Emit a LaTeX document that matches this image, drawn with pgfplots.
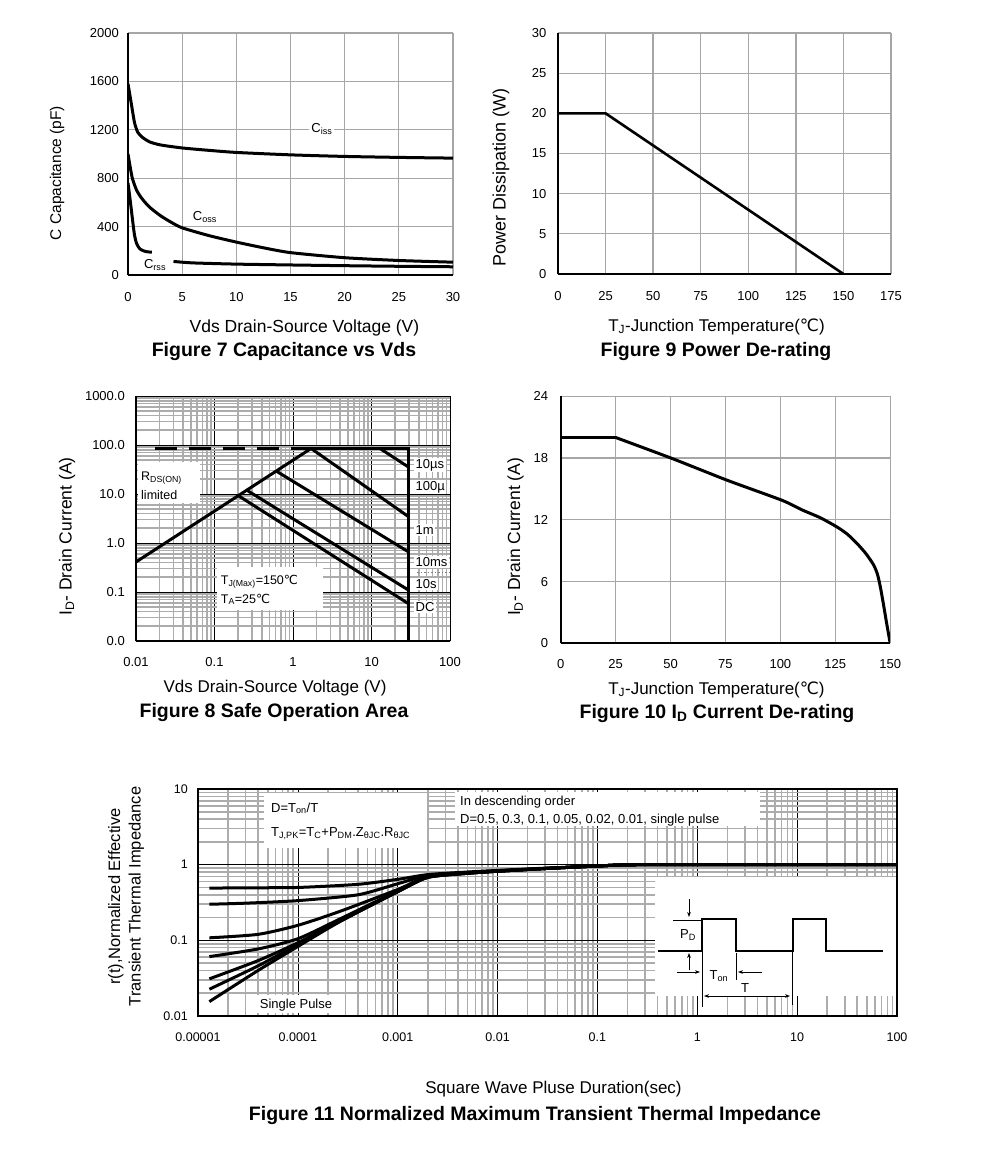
\documentclass[border=0pt]{standalone}
\usepackage{fontspec}
\setmainfont{Liberation Sans}
\newfontfamily\dejavu{DejaVu Sans}
\usepackage{pgfplots}
\pgfplotsset{compat=1.18}
\usetikzlibrary{arrows.meta}

\newcommand{\degC}{{\dejavu ℃}}
\newcommand{\tickfont}{\fontsize{13}{16}\selectfont}
\newcommand{\xlabfont}{\fontsize{17}{20}\selectfont}
\newcommand{\ylabfont}{\fontsize{17.5}{21}\selectfont}
\newcommand{\titfont}{\fontsize{19.5}{23}\selectfont\bfseries}
\newcommand{\annfont}{\fontsize{13}{15.5}\selectfont}

\pgfplotsset{
  ds/.style={
    scale only axis, anchor=south west,
    major tick length=0pt, minor tick length=0pt,
    tick style={draw=none},
    tick label style={font=\tickfont, inner sep=0pt},
    /pgf/number format/assume math mode=true,
    /pgf/number format/1000 sep={},
    scaled ticks=false,
    grid=major,
    major grid style={draw=gray!70, line width=1.3pt},
    axis line style={black, line width=2pt, -},
  },
  lin/.style={ds, axis x line*=bottom, axis y line*=left},
  curve/.style={black, line width=3pt, no markers},
}

\begin{document}
\begin{tikzpicture}[x=1pt,y=1pt]
\useasboundingbox (0,0) rectangle (991,-1171);

% ---------------- Figure 7
\begin{axis}[lin, at={(128pt,-275pt)}, width=325pt, height=242pt,
  xmin=0, xmax=30, ymin=0, ymax=2000,
  xtick={0,5,...,30}, ytick={0,400,...,2000},
  xticklabel style={anchor=base, yshift=-26pt},
  yticklabel style={anchor=east, xshift=-9pt},
  xlabel={Vds Drain-Source Voltage (V)},
  ylabel={C Capacitance (pF)},
  xlabel style={at={(axis description cs:0.5,0)}, anchor=base, yshift=-57pt, xshift=14pt, font=\fontsize{17.5}{20}\selectfont},
  ylabel style={at={([xshift=-71pt,yshift=-19pt]axis description cs:0,0.5)}, anchor=center, font=\fontsize{15.5}{18}\selectfont},
]
\addplot[curve, smooth, tension=0.4] coordinates {
  (0,1580) (0.3,1420) (0.6,1260) (0.9,1180) (1.3,1140) (2,1100) (3,1075)
  (5,1050) (7.5,1030) (10,1013) (15,993) (20,980) (25,972) (30,966)};
\addplot[curve, smooth, tension=0.4] coordinates {
  (0,1000) (0.15,920) (0.4,800) (0.8,700) (1.3,630) (2,560) (3,490) (4,435)
  (5,390) (7.5,325) (10,272) (12.5,225) (15,185) (20,143) (25,120) (30,106)};
\addplot[curve, smooth, tension=0.4] coordinates {
  (0,760) (0.2,620) (0.4,470) (0.6,330) (0.8,260) (1.1,215) (1.6,195) (2.2,188)};
\addplot[curve, smooth, tension=0.4] coordinates {
  (4.2,112) (6,100) (10,90) (15,83) (20,77) (25,72) (30,68)};
\node[fill=white, inner sep=2pt, font=\annfont] at (axis cs:17.9,1206) {C\textsubscript{iss}};
\node[inner sep=1pt, font=\annfont] at (axis cs:7.1,479) {C\textsubscript{oss}};
\node[inner sep=1pt, font=\annfont] at (axis cs:2.5,83) {C\textsubscript{rss}};
\end{axis}

% ---------------- Figure 9
\begin{axis}[lin, at={(558pt,-274pt)}, width=333pt, height=241pt,
  xmin=0, xmax=175, ymin=0, ymax=30,
  xtick={0,25,...,175}, ytick={0,5,...,30},
  xticklabel style={anchor=base, yshift=-26pt},
  yticklabel style={anchor=east, xshift=-11.5pt},
  xlabel={T\textsubscript{J}-Junction Temperature(\degC)},
  ylabel={Power Dissipation (W)},
  xlabel style={at={(axis description cs:0.5,0)}, anchor=base, yshift=-57pt, xshift=-8pt, font=\xlabfont},
  ylabel style={at={([xshift=-57pt,yshift=-24pt]axis description cs:0,0.5)}, anchor=center, font=\fontsize{18}{21}\selectfont},
]
\addplot[curve, line width=2.6pt] coordinates {(0,20) (25,20) (150,0)};
\end{axis}

% ---------------- Figure 8
\begin{axis}[ds, axis x line*=bottom, axis y line*=left,
  xmode=log, ymode=log, at={(136pt,-641pt)}, width=314pt, height=245pt,
  xmin=0.01, xmax=100, ymin=0.01, ymax=1000,
  xtick={0.01,0.1,1,10,100}, xticklabels={0.01,0.1,1,10,100},
  ytick={0.01,0.1,1,10,100,1000}, yticklabels={0.0,0.1,1.0,10.0,100.0,1000.0},
  minor xtick={0.02,0.03,0.04,0.05,0.06,0.07,0.08,0.09,0.2,0.3,0.4,0.5,0.6,0.7,0.8,0.9,
    2,3,4,5,6,7,8,9,20,30,40,50,60,70,80,90},
  minor ytick={0.02,0.03,0.04,0.05,0.06,0.07,0.08,0.09,0.2,0.3,0.4,0.5,0.6,0.7,0.8,0.9,
    2,3,4,5,6,7,8,9,20,30,40,50,60,70,80,90,200,300,400,500,600,700,800,900},
  grid=both,
  major grid style={draw=black, line width=0.6pt},
  minor grid style={draw=gray!65, line width=1.6pt},
  axis line style={line width=2.5pt},
  xticklabel style={anchor=base, yshift=-25pt},
  yticklabel style={anchor=east, xshift=-11pt},
  xlabel={Vds Drain-Source Voltage (V)},
  ylabel={I\textsubscript{D}- Drain Current (A)},
  xlabel style={at={(axis description cs:0.5,0)}, anchor=base, yshift=-51pt, xshift=-18pt, font=\xlabfont},
  ylabel style={at={([xshift=-69pt,yshift=-18pt]axis description cs:0,0.5)}, anchor=center, font=\ylabfont},
]
\addplot[curve, dash pattern=on 22pt off 12pt] coordinates {(0.0175,85) (1.7,85)};
\addplot[curve] coordinates {(1.7,85) (30,85) (30,0.01)};
\addplot[curve] coordinates {(0.01,0.41) (1.7,85)};
\addplot[curve] coordinates {(12.8,85) (30,35)};
\addplot[curve] coordinates {(1.7,85) (30,3.4)};
\addplot[curve] coordinates {(0.62,29) (30,0.65)};
\addplot[curve] coordinates {(0.257,12) (30,0.108)};
\addplot[curve] coordinates {(0.2,9.3) (30,0.057)};
\end{axis}

% ---------------- Figure 10
\begin{axis}[lin, at={(560.7pt,-643.3pt)}, width=329.5pt, height=247pt,
  xmin=0, xmax=150, ymin=0, ymax=24,
  xtick={0,25,...,150}, ytick={0,6,...,24},
  xticklabel style={anchor=base, yshift=-25pt},
  yticklabel style={anchor=east, xshift=-12.5pt},
  xlabel={T\textsubscript{J}-Junction Temperature(\degC)},
  ylabel={I\textsubscript{D}- Drain Current (A)},
  xlabel style={at={(axis description cs:0.5,0)}, anchor=base, yshift=-51pt, xshift=-9pt, font=\xlabfont},
  ylabel style={at={([xshift=-45pt,yshift=-17pt]axis description cs:0,0.5)}, anchor=center, font=\ylabfont},
]
\addplot[curve] coordinates {(0,20) (25,20)};
\addplot[curve, smooth, tension=0.4] coordinates {
  (25,20) (50.7,17.96) (75.7,15.85) (100.7,13.9) (110,12.95) (118.2,12.2)
  (125.8,11.3) (130.5,10.6) (134.9,9.7) (139,8.7) (142.5,7.6) (144.2,6.7)
  (145.5,5.5) (147,3.7) (148.5,1.8) (150,0)};
\end{axis}

% ---------------- Figure 11
\begin{axis}[ds, axis lines=box,
  xmode=log, ymode=log, at={(198pt,-1016pt)}, width=699pt, height=227pt,
  xmin=1e-5, xmax=100, ymin=0.01, ymax=10,
  xtick={1e-5,1e-4,1e-3,0.01,0.1,1,10,100},
  xticklabels={0.00001,0.0001,0.001,0.01,0.1,1,10,100},
  ytick={0.01,0.1,1,10}, yticklabels={0.01,0.1,1,10},
  minor xtick={2e-5,3e-5,4e-5,5e-5,6e-5,7e-5,8e-5,9e-5,
    2e-4,3e-4,4e-4,5e-4,6e-4,7e-4,8e-4,9e-4,
    2e-3,3e-3,4e-3,5e-3,6e-3,7e-3,8e-3,9e-3,
    0.02,0.03,0.04,0.05,0.06,0.07,0.08,0.09,
    0.2,0.3,0.4,0.5,0.6,0.7,0.8,0.9,
    2,3,4,5,6,7,8,9,20,30,40,50,60,70,80,90},
  minor ytick={0.02,0.03,0.04,0.05,0.06,0.07,0.08,0.09,0.2,0.3,0.4,0.5,0.6,0.7,0.8,0.9,
    2,3,4,5,6,7,8,9},
  grid=both,
  major grid style={draw=black, line width=0.6pt},
  minor grid style={draw=gray!65, line width=1.6pt},
  axis line style={line width=2.5pt},
  tick label style={font=\fontsize{12.5}{15}\selectfont},
  xticklabel style={anchor=base, yshift=-25pt},
  yticklabel style={anchor=east, xshift=-10pt},
  xlabel={Square Wave Pluse Duration(sec)},
  ylabel={r(t),Normalized Effective\\Transient Thermal Impedance},
  xlabel style={at={(axis description cs:0.5,0)}, anchor=base, yshift=-77pt, xshift=6pt, font=\xlabfont},
  ylabel style={at={([xshift=-72pt,yshift=6pt]axis description cs:0,0.5)}, anchor=center, align=center, font=\fontsize{16.5}{20.5}\selectfont},
]
\addplot[curve, smooth, tension=0.4] coordinates {
  (1.3e-5,0.49) (3e-5,0.495) (1e-4,0.50) (4e-4,0.55) (1e-3,0.64) (2e-3,0.74)
  (5e-3,0.80) (1e-2,0.84) (3e-2,0.90) (0.1,0.96) (0.3,1.0) (100,1.0)};
\addplot[curve, smooth, tension=0.4] coordinates {
  (1.3e-5,0.30) (3e-5,0.31) (1e-4,0.335) (4e-4,0.40) (1e-3,0.56) (2e-3,0.72)
  (5e-3,0.79) (1e-2,0.83) (3e-2,0.89) (0.1,0.96) (0.3,1.0) (100,1.0)};
\addplot[curve, smooth, tension=0.4] coordinates {
  (1.3e-5,0.108) (4e-5,0.12) (1e-4,0.158) (2.6e-4,0.24) (1e-3,0.47) (2e-3,0.70)
  (5e-3,0.78) (1e-2,0.82) (3e-2,0.89) (0.1,0.96) (0.3,1.0) (100,1.0)};
\addplot[curve, smooth, tension=0.4] coordinates {
  (1.3e-5,0.061) (4e-5,0.077) (1e-4,0.105) (2.6e-4,0.19) (1e-3,0.45) (2e-3,0.69)
  (5e-3,0.77) (1e-2,0.82) (3e-2,0.89) (0.1,0.96) (0.3,1.0) (100,1.0)};
\addplot[curve, smooth, tension=0.4] coordinates {
  (1.3e-5,0.031) (4e-5,0.054) (1e-4,0.093) (2.6e-4,0.18) (1e-3,0.44) (2e-3,0.68)
  (5e-3,0.77) (1e-2,0.82) (3e-2,0.89) (0.1,0.96) (0.3,1.0) (100,1.0)};
\addplot[curve, smooth, tension=0.4] coordinates {
  (1.3e-5,0.0226) (4e-5,0.046) (1e-4,0.088) (2.6e-4,0.177) (1e-3,0.44) (2e-3,0.68)
  (5e-3,0.77) (1e-2,0.82) (3e-2,0.89) (0.1,0.96) (0.3,1.0) (100,1.0)};
\addplot[curve, smooth, tension=0.4] coordinates {
  (1.3e-5,0.0155) (4e-5,0.04) (1e-4,0.083) (2.6e-4,0.175) (1e-3,0.44) (2e-3,0.68)
  (5e-3,0.77) (1e-2,0.82) (3e-2,0.89) (0.1,0.96) (0.3,1.0) (100,1.0)};
\end{axis}

% ---------------- annotations, figure 8
\fill[white] (138,-461.7) rectangle (200,-503.3);
\node[anchor=base west, inner sep=0pt, font=\fontsize{12.5}{15}\selectfont] at (141,-480) {R\textsubscript{DS(ON)}};
\node[anchor=base west, inner sep=0pt, font=\fontsize{12.5}{15}\selectfont] at (141,-499) {limited};
\fill[white] (216.7,-566.7) rectangle (323.3,-610);
\node[anchor=base west, inner sep=0pt, font=\fontsize{12.5}{15}\selectfont] at (220.7,-584) {T\textsubscript{J(Max)}=150\degC};
\node[anchor=base west, inner sep=0pt, font=\fontsize{12.5}{15}\selectfont] at (220.7,-603) {T\textsubscript{A}=25\degC};
\begin{scope}[every node/.style={fill=white, inner sep=1.5pt, anchor=west, font=\fontsize{13}{15}\selectfont}]
\node at (414,-465) {10µs};
\node at (414,-487) {100µ};
\node at (414,-530) {1m};
\node at (414,-561.7) {10ms};
\node at (414,-584) {10s};
\node at (414,-606.7) {DC};
\end{scope}
\draw[gray, line width=1pt, dash pattern=on 1.5pt off 2pt] (417,-572.7) -- (449,-572.7);

% ---------------- annotations, figure 11
\fill[white] (263.7,-793) rectangle (426.9,-848);
\node[anchor=base west, inner sep=0pt, font=\annfont] at (271,-812) {D=T\textsubscript{on}/T};
\node[anchor=base west, inner sep=0pt, font=\annfont] at (271,-836) {T\textsubscript{J,PK}=T\textsubscript{C}+P\textsubscript{DM}.Z\textsubscript{θJC}.R\textsubscript{θJC}};
\fill[white] (455,-792) rectangle (760,-826);
\node[anchor=base west, inner sep=0pt, font=\annfont] at (460,-805) {In descending order};
\node[anchor=base west, inner sep=0pt, font=\annfont] at (460,-823) {D=0.5, 0.3, 0.1, 0.05, 0.02, 0.01, single pulse};
\fill[white] (249,-995) rectangle (344,-1013);
\node[anchor=base, inner sep=0pt, font=\annfont] at (296,-1008) {Single Pulse};
\fill[white] (655,-877) rectangle (895.5,-996);
\draw[line width=2.5pt] (658,-951) -- (702,-951) -- (702,-919) -- (736,-919) -- (736,-951)
  -- (793,-951) -- (793,-919) -- (826,-919) -- (826,-951) -- (883,-951);
\draw[line width=0.8pt] (673,-920) -- (702,-920);
\draw[line width=0.8pt] (702,-951) -- (702,-1007);
\draw[line width=0.8pt] (736,-953) -- (736,-980);
\draw[line width=0.8pt] (792,-951) -- (792,-1005);
\draw[line width=0.8pt, -{Stealth[length=5pt]}] (689,-899) -- (689,-917);
\draw[line width=0.8pt, -{Stealth[length=5pt]}] (689,-970) -- (689,-953);
\draw[line width=0.8pt, -{Stealth[length=5pt]}] (677,-972) -- (700,-972);
\draw[line width=0.8pt, -{Stealth[length=5pt]}] (762,-972) -- (738,-972);
\draw[line width=0.8pt, {Stealth[length=5pt]}-{Stealth[length=5pt]}] (704,-996) -- (790,-996);
\node[font=\annfont, inner sep=0pt] at (688,-935) {P\textsubscript{D}};
\node[font=\annfont, inner sep=0pt] at (719,-976) {T\textsubscript{on}};
\node[font=\annfont, inner sep=0pt] at (745,-988) {T};

% ---------------- titles
\node[anchor=base, font=\titfont] at (284,-356) {Figure 7 Capacitance vs Vds};
\node[anchor=base, font=\titfont] at (716,-356) {Figure 9 Power De-rating};
\node[anchor=base, font=\titfont] at (274,-717) {Figure 8 Safe Operation Area};
\node[anchor=base, font=\titfont] at (717,-718) {Figure 10 I\textsubscript{D} Current De-rating};
\node[anchor=base, font=\titfont] at (535,-1120) {Figure 11 Normalized Maximum Transient Thermal Impedance};
\end{tikzpicture}
\end{document}
